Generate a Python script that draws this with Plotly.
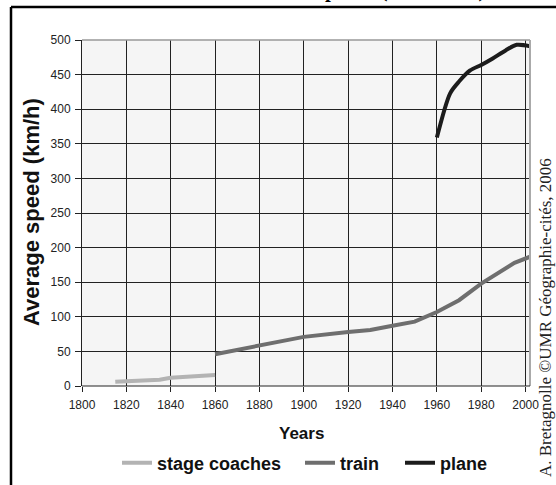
import plotly.graph_objects as go

# Data
stage_years = [1815, 1835, 1840, 1860]
stage_speed = [6, 9, 12, 16]

train_years = [1860, 1880, 1900, 1920, 1930, 1940, 1950, 1960, 1970, 1980, 1995, 2003]
train_speed = [46, 58, 71, 78, 81, 87, 93, 107, 124, 148, 178, 188]

plane_years = [1960, 1966, 1970, 1975, 1980, 1985, 1991, 1996, 2002]
plane_speed = [359, 423, 440, 456, 464, 473, 485, 493, 491]

x_ticks = [1800, 1820, 1840, 1860, 1880, 1900, 1920, 1940, 1960, 1980, 2000]
y_ticks = [0, 50, 100, 150, 200, 250, 300, 350, 400, 450, 500]

SANS = "Liberation Sans, Arial, sans-serif"
SERIF = "Liberation Serif, Times New Roman, serif"

W, H = 556, 485
L, R, T, B = 82, 26, 40, 99
PW, PH = W - L - R, H - T - B


def px(xpix):
    return (xpix - L) / PW


def py(ypix):
    return (H - B - ypix) / PH


legend_font = dict(family=SANS, size=18, color="#111", weight="bold")


def leg(xpix):
    return dict(orientation="h", xref="container", yref="container",
                x=xpix / W, y=1 - 463 / H, xanchor="left", yanchor="middle",
                font=legend_font, itemwidth=30, bgcolor="rgba(0,0,0,0)")


fig = go.Figure()
fig.add_trace(go.Scatter(x=stage_years, y=stage_speed, mode="lines", name="stage coaches",
                         legend="legend", line=dict(color="#b3b3b3", width=4)))
fig.add_trace(go.Scatter(x=train_years, y=train_speed, mode="lines", name="train",
                         legend="legend2", line=dict(color="#6e6e6e", width=4)))
fig.add_trace(go.Scatter(x=plane_years, y=plane_speed, mode="lines", name="plane",
                         legend="legend3",
                         line=dict(color="#1c1c1c", width=4, shape="spline", smoothing=0.8)))

fig.update_layout(
    width=W, height=H,
    margin=dict(l=L, r=R, t=T, b=B, autoexpand=False),
    paper_bgcolor="white",
    plot_bgcolor="#f5f5f5",
    showlegend=True,
    legend=leg(117),
    legend2=leg(300),
    legend3=leg(400),
    xaxis=dict(range=[1800, 2002], tickvals=x_ticks, ticks="outside", ticklen=5,
               tickcolor="#222", showgrid=True, gridcolor="#222", gridwidth=1,
               zeroline=False, showline=False, ticklabelstandoff=3,
               tickfont=dict(family=SANS, size=12, color="#222")),
    yaxis=dict(range=[0, 500], tickvals=y_ticks, ticks="outside", ticklen=6,
               tickcolor="#222", showgrid=True, gridcolor="#222", gridwidth=1,
               zeroline=False, showline=True, linecolor="#222", linewidth=1,
               ticklabelstandoff=2,
               tickfont=dict(family=SANS, size=12, color="#222")),
    annotations=[
        dict(text="<b>Average speed (km/h)</b>", xref="paper", yref="paper",
             x=px(31), y=py(212), xanchor="center", yanchor="middle",
             textangle=-90, showarrow=False,
             font=dict(family=SANS, size=22, color="#111")),
        dict(text="<b>Years</b>", xref="paper", yref="paper",
             x=px(301), y=py(433), xanchor="center", yanchor="middle",
             showarrow=False, font=dict(family=SANS, size=17, color="#111")),
        dict(text="A. Bretagnolle ©UMR Géographie-cités, 2006", xref="paper", yref="paper",
             x=px(545), y=py(318), xanchor="center", yanchor="middle",
             textangle=-90, showarrow=False,
             font=dict(family=SERIF, size=17, color="#222")),
        dict(text="<b>Evolution of land and air travel speeds (1800-2000)</b>",
             xref="paper", yref="paper", x=px(257), y=py(4),
             xanchor="center", yanchor="bottom",
             showarrow=False, font=dict(family=SERIF, size=21, color="#000")),
    ],
    shapes=[
        dict(type="line", xref="paper", yref="paper", x0=0, x1=1, y0=1, y1=1,
             line=dict(color="#999", width=1.5)),
        dict(type="line", xref="paper", yref="paper", x0=1, x1=1, y0=0, y1=1,
             line=dict(color="#aaa", width=2)),
        dict(type="line", xref="paper", yref="paper", x0=0, x1=1, y0=0, y1=0,
             line=dict(color="#222", width=1)),
        dict(type="line", xref="paper", yref="paper", x0=px(11), x1=px(11),
             y0=py(500), y1=py(7), line=dict(color="#000", width=2.5)),
        dict(type="line", xref="paper", yref="paper", x0=px(11), x1=px(570),
             y0=py(7), y1=py(7), line=dict(color="#000", width=2.5)),
    ],
)

fig.write_html("out.html", config={"displayModeBar": False},
               post_script="document.body.style.margin='0';document.body.style.overflow='hidden';")
